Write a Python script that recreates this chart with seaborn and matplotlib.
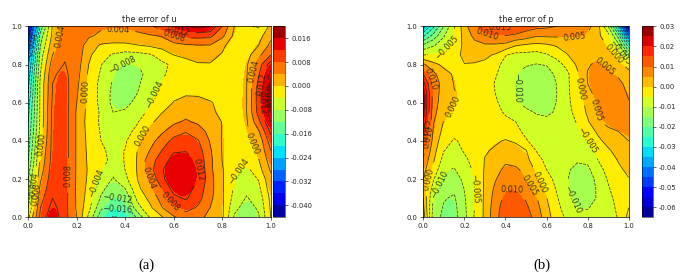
import numpy as np
import matplotlib
matplotlib.use("Agg")
import matplotlib.pyplot as plt
from matplotlib.colors import BoundaryNorm, ListedColormap
from matplotlib.cm import ScalarMappable
import seaborn as sns

# grid positions
x_grid = [0, .05, .1, .15, .2, .25, .3, .35, .4, .45, .5, .55, .6, .65, .7, .75, .8, .85, .9, .95, 1]
y_grid = [1, .95, .9, .85, .8, .75, .7, .65, .6, .55, .5, .45, .4, .35, .3, .25, .2, .15, .1, .05, 0]

# error of u, in thousandths (top row is y = 1)
u_err = [
 [-44,-15,.5,6,6.5,6,4.6,4.5,4.6,5,7,10.5,13.5,16,17.5,16,8,0,-3.5,-4.5,1],
 [-40,-10,1,5.5,6,4.5,3.2,2.8,3,3.3,3.6,4.2,8,9.2,9.3,9,5,-1,-2.5,-1.5,3],
 [-36,-8,2.5,6.5,6.5,2,-.5,-1,-1,-.2,.5,1.5,2.5,3.5,3.8,3.8,.8,-2,-2.3,0,5],
 [-32,-6,4,7.5,6.5,.8,-2.7,-4.4,-5.5,-5.3,-4.5,-2.5,0,.8,1.3,1,-.3,-1.8,-1.6,3,8],
 [-29,-5,6,8.2,6,-.1,-3.8,-7,-8.3,-8,-6,-4.8,-3.3,-1.3,-.3,-.2,-.6,-1.5,-.6,6,14],
 [-27,-4,7.5,9,5.5,-.8,-4.5,-8,-9.5,-9.3,-6.5,-4.5,-3,-1.5,-.7,-.7,-1,-1.2,-.4,7.5,17],
 [-25,-3,8,9.5,5,-1.5,-5,-8.5,-10,-8.6,-6,-3.9,-2.2,-1.2,-.8,-.7,-.8,-1,-.2,9,19],
 [-24,-3,8.2,9.8,4.5,-1.5,-5,-9,-10.5,-8,-4.8,-2.8,-1,-.3,-.3,-.8,-1,-1,-.2,10,20],
 [-22,-3,8.6,10,4,-1.5,-5,-9,-9,-7,-4.8,-2,.2,.8,.6,.2,-.7,-.9,-.2,10,19.5],
 [-21,-3,9,10,3.5,-1.5,-4.5,-8,-7.5,-5.8,-3.2,-.2,1.7,2.8,2,.7,-.8,-1,-.1,9.5,18],
 [-20,-3,9.2,10,3.5,-1.8,-4.6,-6.5,-6.3,-4.3,-1,1.7,3.3,4.5,3.3,1.5,-.1,-1,-.6,7,16],
 [-19,-2.5,9.3,10,3.5,-1.5,-4.3,-5.5,-5.3,-3,1.3,3.3,6,7.8,6,2.7,-.2,-1.1,-.7,3.5,13],
 [-18,-1.5,9.3,10,3.5,-1.2,-4,-5,-4.5,-.6,2.5,5.7,9.3,9.5,8.3,3.7,-.3,-1.2,-.7,1.2,10],
 [-17,0,9.3,10,3.5,-1,-3.5,-4.8,-3.9,.1,4,8,11.5,11.8,10,4.5,-.2,-1.3,-2,.4,8],
 [-16,1,9.5,10,3.5,-.8,-3.2,-4.7,-3.9,.3,6,10,13.5,13.5,11,5,-.1,-2.2,-3.8,-.2,6],
 [-14,2,10,10,3.5,-.6,-3.2,-7,-3.9,.3,6.5,11.5,15,15,12,5,.3,-3,-5,-1.5,4.5],
 [-12,3.5,10.5,10,3.4,-.8,-5.5,-8.3,-5,0,4,11,15,15.5,12.2,5.5,.5,-4.2,-6,-3.8,3],
 [-10,5,11,9.7,3.3,-1.3,-7,-10,-8,-1,2.7,8,13.5,14,10.5,5.5,.6,-4.5,-7,-5,2],
 [-10,6.5,12,9.5,3.5,-2,-8.5,-12.5,-11,-3,1,5.5,11,12.5,9.5,5,.7,-5.5,-8.3,-6.5,1],
 [-8,8,13.5,9.5,3.5,-3,-11,-16,-14,-5.5,-1,3.7,7.5,9.5,7.5,4,.7,-7,-9.5,-7.5,.5],
 [-5,9,15,9.5,4,-5,-15,-20.5,-19,-11,-4,-.5,3.5,6,5,3,.7,-8.5,-10.5,-8.5,0],
]

# error of p, in thousandths (top row is y = 1)
p_err = [
 [-37,-26,-15,-5.5,2.8,10,14,16,16,14.5,12.5,11.5,11,10,9,8,6.5,1.8,-10,-32,-65],
 [-26,-18,-10.5,-4,1.5,6.5,9,9.8,9.8,9,7.5,5.5,5.6,5.7,5.7,5.3,4.7,1,-3,-17,-45],
 [-14,-10.5,-7,-3.5,1.2,3.2,4.3,4.2,3.5,.3,-.8,-1.5,-.8,.5,2,3,3.5,3,-.5,-8,-28],
 [-5,-4.6,-3.5,-1.2,.8,1.8,1,-.5,-4.7,-6.5,-6.5,-7,-5.5,-3.3,-.3,3,4,4.3,2.5,-1,-13],
 [6,1.2,-1,-1.5,-.1,-.4,-1,-3,-7,-8,-9.5,-10.2,-9.7,-7,-3.5,.8,4.5,6,4,2,-2],
 [15,6.3,1.5,-.5,-.7,-.8,-1.2,-4.3,-8,-9.7,-12,-12.5,-12,-9,-6,-.7,5.3,7.5,6,4,1.5],
 [22,7.5,3.2,-.2,-.7,-.8,-1.2,-5.5,-8.3,-9.8,-13,-13.5,-13,-9.8,-6,-1.3,5,8,8,6.5,3],
 [26,7.5,2.8,.2,-.7,-.8,-1.5,-5,-8.3,-9.8,-13,-14,-13,-10,-6,-2,3,7.5,8.5,7.5,4.3],
 [27,7,2.5,.2,-.9,-.9,-1.5,-4,-7.5,-9,-12,-12.8,-12.5,-9.8,-6.2,-2.5,1.3,6,8,7,5.3],
 [26,6.5,1.2,-.7,-1.2,-1,-1.5,-3,-5.8,-7,-8.5,-10.5,-10.8,-9.5,-6.5,-3.5,.8,5.5,7.5,7,6],
 [24,5.3,-.3,-1.6,-1.8,-1.3,-1.3,-2,-3.5,-5,-7,-8,-9,-9,-7,-4.6,-.6,4.3,6.3,6.5,6],
 [20,4,-1.5,-3.5,-3,-1.8,-1,-1,-2,-3.5,-6.3,-7.5,-8.3,-8.7,-7.8,-5.7,-3,1,4,5,5.5],
 [16,3,-3,-5.5,-4,-2,-.7,-.5,.3,-.5,-4.5,-7,-8,-8.5,-8.5,-7,-5,-1.3,1.8,3.8,5],
 [12,1.8,-4.8,-7,-4.5,-2.7,-.4,.5,2.5,1.5,.2,-5.2,-7.5,-8.5,-8.8,-8.5,-7,-3.2,-.7,2,3.5],
 [9,.6,-7,-8.5,-6,-3.3,.2,2.5,4.2,3.6,1.5,-3,-6.3,-8,-9,-9.6,-9,-5,-2,.3,2.2],
 [7,-1.5,-9.5,-10.3,-7.5,-4,.5,3.5,6,5.7,3.7,-1,-5,-7.5,-9.5,-11,-11,-7,-3.3,-.8,1],
 [5,-4.7,-11.5,-12,-9,-4.5,.8,4.6,8,7.7,5,.7,-3,-6.5,-9.8,-12,-12.5,-8.5,-4.5,-1.8,-.2],
 [4,-7.5,-13.5,-14,-9.8,-5,.8,6,9.7,9.8,7,3,-1.5,-5.5,-9.3,-12.5,-12.8,-9.3,-5.5,-2.5,-1],
 [5,-10.5,-14.6,-15.7,-10.5,-5,1,7,11.5,12,9.5,5.5,.2,-4.5,-8.5,-12,-12,-9.5,-6,-3.8,-1],
 [6,-12,-15.5,-16.5,-11,-4.8,1,8,12.5,13,11,7,1.2,-3.5,-7.5,-10.5,-10.3,-8.5,-6,-4.5,0],
 [8,-13,-16,-17,-11.5,-4.5,1,8.5,13,14,12,8.5,2,-2.5,-6,-9,-8.5,-7.5,-6.3,-4.8,1.5],
]

# contour levels and colourbar ticks, in thousandths
u_levels = list(range(-44, 21, 4))
p_levels = list(range(-65, 31, 5))
u_ticks = [-40, -32, -24, -16, -8, 0, 8, 16]
p_ticks = [-60, -50, -40, -30, -20, -10, 0, 10, 20, 30]
titles = ["the error of u", "the error of p"]
captions = ["(a)", "(b)"]
axis_ticks = [0, .2, .4, .6, .8, 1]

# where the inline contour labels sit in the reference
u_label_at = [(.14, .95), (.37, .985), (.62, .98), (.6, .95), (.38, .805), (.536, .64), (.243, .66),
              (.055, .38), (.47, .43), (.165, .22), (.704, .25), (.49, .2), (.578, .073),
              (.37, .108), (.37, .056), (.29, .178), (.862, .248), (.935, .396), (.942, .763),
              (.956, .70), (.974, .63), (.99, .6), (.014, .89), (.02, .16), (.03, .12)]
p_label_at = [(.373, .995), (.313, .963), (.739, .934), (.122, .88), (.037, .722), (.135, .583),
              (.455, .68), (.771, .675), (.86, .562), (.80, .405), (.433, .143), (.523, .169),
              (.58, .187), (.739, .10), (.252, .152), (.078, .175), (.016, .204), (.016, .457),
              (.025, .42), (.94, .867), (.917, .827), (.933, .85)]

sns.set_theme(style="ticks", rc={
    "font.family": "DejaVu Sans", "axes.linewidth": .5,
    "xtick.major.width": .5, "ytick.major.width": .5,
    "xtick.major.size": 2.2, "ytick.major.size": 2.2,
    "xtick.major.pad": 2, "ytick.major.pad": 2,
    "xtick.labelsize": 4.9, "ytick.labelsize": 4.9,
    "axes.edgecolor": "black", "xtick.color": "#222222", "ytick.color": "#222222",
    "text.color": "#222222", "xtick.bottom": True, "ytick.left": True,
})
jet = plt.get_cmap("jet")

W, H = 689, 278
fig = plt.figure(figsize=(W / 100, H / 100), dpi=100)


def frame(left, right, top, bottom):
    return fig.add_axes([left / W, 1 - bottom / H, (right - left) / W, (bottom - top) / H])


def panel(box, cbox, grid, levels, ticks, tick_fmt, label_at, title, caption, cap_x):
    ax = frame(*box)
    z = np.array(grid) / 1000.0
    lev = np.array(levels) / 1000.0
    # filled bands: the jet colour at each gap's midpoint, smoothed by the image renderer
    n = len(lev) - 1
    bands = ListedColormap(jet((np.arange(n) + .5) / n))
    norm = BoundaryNorm(lev, n)
    half = (x_grid[1] - x_grid[0]) / 2
    ax.imshow(z, cmap=bands, norm=norm, interpolation="bicubic", interpolation_stage="data",
              origin="upper", aspect="auto", extent=(-half, 1 + half, -half, 1 + half))
    cs = ax.contour(x_grid, y_grid, z, levels=lev, colors="k", linewidths=.55, alpha=.85)
    ax.clabel(cs, inline=True, fontsize=5.9, manual=label_at,
              fmt=lambda v: ("%1.3f" % v).replace("-", "\u2212"))
    ax.set_xlim(0, 1)
    ax.set_ylim(0, 1)
    ax.set_xticks(axis_ticks)
    ax.set_yticks(axis_ticks)
    ax.set_title(title, fontsize=5.9, pad=3)
    cax = frame(*cbox)
    cb = fig.colorbar(ScalarMappable(norm=norm, cmap=bands), cax=cax, spacing="proportional",
                      ticks=np.array(ticks) / 1000.0, format=tick_fmt)
    cb.outline.set_linewidth(.4)
    cax.minorticks_off()
    cax.tick_params(length=2.2, width=.5, pad=2, labelsize=4.9)
    fig.text(cap_x / W, 1 - 265 / H, caption, ha="center", va="center",
             family="Liberation Serif", fontsize=10.5, color="black")


panel((28.3, 270.7, 26.3, 217.3), (273.3, 285.3, 26.3, 217.3), u_err, u_levels, u_ticks,
      "%.3f", u_label_at, titles[0], captions[0], 146.7)
panel((423.3, 628.7, 26.3, 217.3), (641.7, 653.3, 26.3, 217.3), p_err, p_levels, p_ticks,
      "%.2f", p_label_at, titles[1], captions[1], 541.7)

fig.savefig("out.png", dpi=100)
